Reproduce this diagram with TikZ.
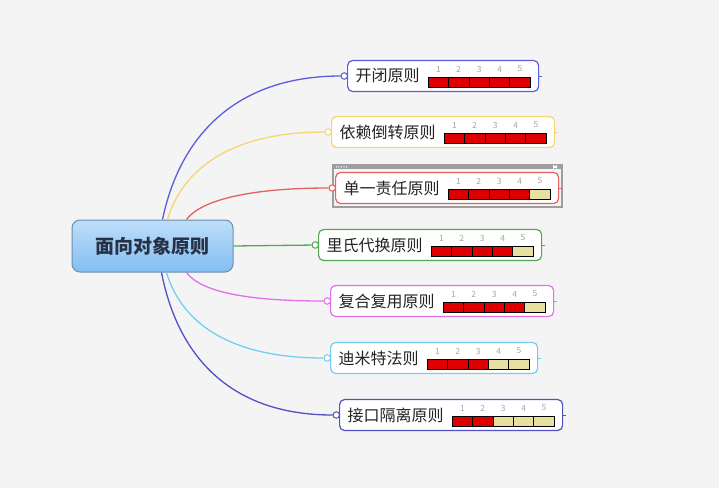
\documentclass[tikz,border=0pt]{standalone}
\usepackage{fontspec}
\setmainfont{Noto Sans CJK SC}
\usetikzlibrary{positioning,calc}
\definecolor{bggray}{RGB}{244,244,244}
\definecolor{textgray}{RGB}{35,35,35}
\definecolor{rootTop}{RGB}{190,222,250}
\definecolor{rootBottom}{RGB}{130,190,242}
\definecolor{rootEdge}{RGB}{110,140,175}
\definecolor{rootText}{RGB}{40,50,70}
\definecolor{cBlue}{RGB}{92,92,220}
\definecolor{cYellow}{RGB}{246,214,110}
\definecolor{cRed}{RGB}{226,98,98}
\definecolor{cGreen}{RGB}{84,168,84}
\definecolor{cMagenta}{RGB}{226,112,232}
\definecolor{cCyan}{RGB}{112,208,240}
\definecolor{cPurple}{RGB}{82,80,196}
\definecolor{cellHigh}{RGB}{222,0,0}
\definecolor{cellLow}{RGB}{232,224,160}
\definecolor{frameGray}{RGB}{158,158,158}

% five cells with the score, right side of a topic box
\newcommand\scorebar[2]{%
  \foreach \k in {1,...,5}{%
    \ifnum\k>#2 \def\cellfill{cellLow}\else\def\cellfill{cellHigh}\fi
    \draw[scorecell, fill=\cellfill] ([xshift={-111+(\k-1)*20.4}, yshift=-1]#1.east) rectangle ++(20.4,10);
    \node[scorenum] (#1-n\k) at ([xshift={-111+(\k-0.5)*20.4}, yshift=7]#1.east) {\k};
  }}

\begin{document}
\begin{tikzpicture}[x=1pt, y=-1pt,
    rootbox/.style={rectangle, draw=rootEdge, top color=rootTop, bottom color=rootBottom, line width=1pt, rounded corners=8pt, minimum width=161pt, minimum height=52pt, font=\fontsize{19}{21}\selectfont\bfseries, text=rootText},
    topic/.style={rectangle, draw=#1, fill=white, line width=1.2pt, rounded corners=5pt, minimum height=31pt, inner xsep=8pt, inner ysep=0pt, anchor=west, font=\fontsize{16}{18}\selectfont, text=textgray, execute at end node={\hspace*{111pt}}},
    knob/.style={circle, draw=#1, fill=white, line width=1pt, inner sep=0pt, minimum size=6.5pt, anchor=east},
    branch/.style={draw=#1, line width=1.3pt},
    scorecell/.style={draw=black, line width=1pt},
    scorenum/.style={font=\fontsize{8.5}{9}\selectfont, text=gray!70, inner sep=0pt}
  ]
  \fill[bggray] (0,0) rectangle (719,488);

  \node[rootbox] (root) at (152.5,246) {面向对象原则};

  \node[topic=cBlue] (kaibi) at (347,76) {开闭原则};
  \node[topic=cYellow] (yilai) at (331,132) {依赖倒转原则};
  \node[topic=cRed] (danyi) at (335,188) {单一责任原则};
  \node[topic=cGreen] (lishi) at (318,245) {里氏代换原则};
  \node[topic=cMagenta] (fuhe) at (330,301) {复合复用原则};
  \node[topic=cCyan] (dimite) at (330,358) {迪米特法则};
  \node[topic=cPurple] (jiekou) at (339,415) {接口隔离原则};

  % selection frame round danyi
  \draw[frameGray, line width=1.8pt] ([shift={(-2,-7.5)}]danyi.north west) rectangle ([shift={(3,3)}]danyi.south east);
  \fill[frameGray] ([shift={(-2,-7.5)}]danyi.north west) rectangle ([shift={(3,-2.5)}]danyi.north east);
  \foreach \i in {0,...,4}
    \fill[white] ([shift={(1.5+2.5*\i,-5)}]danyi.north west) circle (0.7);
  \fill[white] ([shift={(-5,-5)}]danyi.north east) -- ++(3,-2) -- ++(0,4) -- cycle;
  \fill[white] ([shift={(-3,-5)}]danyi.north east) -- ++(-3,-2) -- ++(0,4) -- cycle;

  \foreach \n/\c in {kaibi/cBlue, yilai/cYellow, danyi/cRed, lishi/cGreen, fuhe/cMagenta, dimite/cCyan, jiekou/cPurple}{
    \node[knob=\c] (\n-k) at ([xshift=1]\n.west) {};
    \draw[\c, line width=1pt] (\n.east) -- ++(3,0);
  }

  \scorebar{kaibi}{5}
  \scorebar{yilai}{5}
  \scorebar{danyi}{4}
  \scorebar{lishi}{4}
  \scorebar{fuhe}{4}
  \scorebar{dimite}{3}
  \scorebar{jiekou}{2}

  \coordinate (s-kaibi) at ([xshift=91]root.north west);
  \coordinate (s-yilai) at ([xshift=96]root.north west);
  \coordinate (s-danyi) at ([xshift=115]root.north west);
  \coordinate (s-fuhe) at ([xshift=115]root.south west);
  \coordinate (s-dimite) at ([xshift=95]root.south west);
  \coordinate (s-jiekou) at ([xshift=90]root.south west);

  \draw[branch=cBlue] (s-kaibi) .. controls +(18,-86) and +(-106,0) .. (kaibi-k);
  \draw[branch=cYellow] (s-yilai) .. controls +(16,-53) and +(-94,0) .. (yilai-k);
  \draw[branch=cRed] (s-danyi) .. controls +(14,-19) and +(-84,0) .. (danyi-k);
  \draw[branch=cGreen] (root.east) -- (lishi-k);
  \draw[branch=cMagenta] (s-fuhe) .. controls +(14,19) and +(-82,0) .. (fuhe-k);
  \draw[branch=cCyan] (s-dimite) .. controls +(16,53) and +(-94,0) .. (dimite-k);
  \draw[branch=cPurple] (s-jiekou) .. controls +(17,87) and +(-103,0) .. (jiekou-k);
\end{tikzpicture}
\end{document}
